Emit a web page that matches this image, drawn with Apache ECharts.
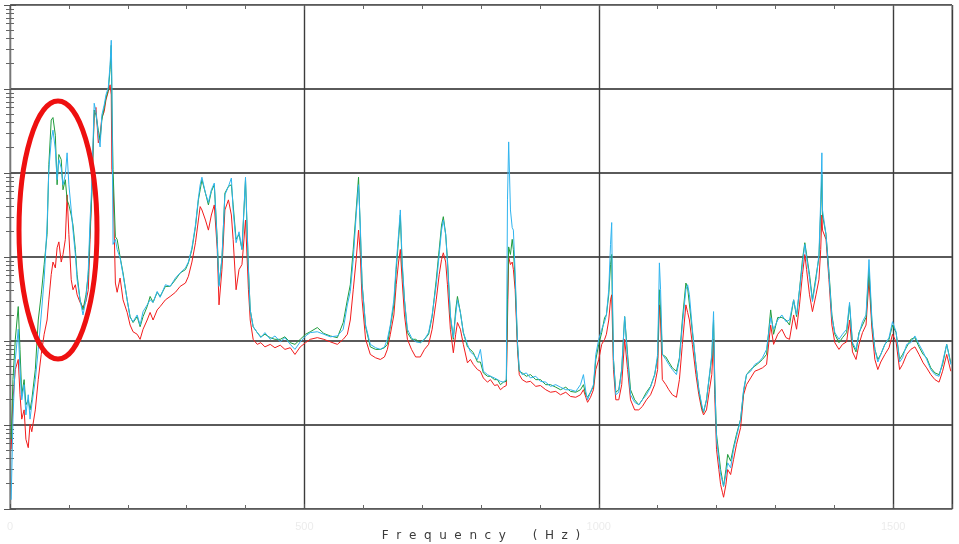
<!DOCTYPE html>
<html>
<head>
<meta charset="utf-8">
<title>Frequency spectrum</title>
<script src="https://cdn.jsdelivr.net/npm/echarts@6/dist/echarts.min.js"></script>
<style>
  html, body { margin: 0; padding: 0; background: #ffffff; }
  #chart { width: 959px; height: 544px; }
</style>
</head>
<body>
<div id="chart"></div>
<script>
// Frequency bins (Hz) shared by the three spectra
const freq = [
  2,5,9,14,17,20,24,27,31,34,
  37,43,48,53,58,63,66,70,73,77,
  80,83,87,90,94,97,100,104,107,111,
  114,119,124,129,133,136,139,143,146,150,
  153,156,160,163,167,170,172,173,175,179,
  182,187,192,199,204,209,216,221,226,233,
  238,243,250,255,264,272,281,289,298,303,
  309,315,320,323,326,332,337,342,347,352,
  355,360,365,371,376,379,384,389,394,400,
  405,408,413,420,426,433,442,450,459,467,
  476,484,493,502,510,522,533,544,556,566,
  573,578,583,588,592,595,598,604,612,621,
  629,636,641,646,652,656,660,663,666,670,
  675,682,689,697,704,711,717,724,729,733,
  736,740,743,748,753,757,760,765,770,777,
  782,787,794,799,804,811,816,823,828,833,
  838,843,845,847,850,853,855,858,862,865,
  870,877,884,893,901,910,918,927,935,944,
  952,961,969,974,978,981,986,991,995,1000,
  1005,1010,1013,1017,1020,1022,1023,1025,1029,1034,
  1039,1044,1049,1054,1061,1068,1074,1081,1088,1095,
  1100,1103,1105,1108,1114,1119,1125,1132,1137,1142,
  1148,1151,1154,1159,1165,1170,1175,1178,1183,1188,
  1192,1195,1197,1200,1204,1207,1210,1212,1216,1219,
  1224,1229,1234,1241,1246,1251,1258,1265,1272,1278,
  1285,1292,1297,1304,1311,1318,1324,1331,1336,1341,
  1346,1350,1353,1358,1363,1369,1374,1377,1379,1380,
  1386,1391,1396,1401,1408,1414,1421,1426,1431,1437,
  1442,1448,1454,1459,1464,1469,1474,1479,1486,1493,
  1499,1505,1511,1516,1523,1530,1537,1544,1551,1557,
  1564,1571,1578,1584,1591,1598
];

// Spectral density, stored as log10 values
const cyanLog = [
  -5.89,-4.93,-4.22,-3.86,-4.34,-4.70,-4.52,-4.88,-4.64,-4.93,
  -4.76,-4.46,-4.10,-3.69,-3.27,-2.62,-1.96,-1.61,-1.49,-1.72,
  -2.08,-1.84,-1.94,-2.14,-2.02,-1.76,-2.14,-2.44,-2.68,-2.97,
  -3.27,-3.51,-3.69,-3.51,-3.15,-2.56,-2.14,-1.17,-1.27,-1.55,
  -1.69,-1.31,-1.19,-1.07,-0.98,-0.71,-0.42,-0.89,-2.85,-2.79,
  -2.91,-3.01,-3.21,-3.51,-3.72,-3.77,-3.69,-3.81,-3.65,-3.57,
  -3.51,-3.54,-3.41,-3.48,-3.33,-3.35,-3.25,-3.19,-3.13,-3.06,
  -2.89,-2.62,-2.30,-2.14,-2.05,-2.24,-2.35,-2.20,-2.12,-2.83,
  -3.35,-3.01,-2.26,-2.16,-2.06,-2.44,-2.83,-2.70,-2.91,-2.05,
  -3.15,-3.63,-3.83,-3.90,-3.96,-3.90,-3.98,-3.94,-4.01,-3.96,
  -4.04,-4.10,-4.01,-3.94,-3.90,-3.89,-3.92,-3.95,-3.94,-3.86,
  -3.57,-3.41,-3.03,-2.50,-2.14,-2.62,-3.33,-3.81,-4.04,-4.08,
  -4.10,-4.07,-3.98,-3.81,-3.51,-3.09,-2.73,-2.44,-3.03,-3.51,
  -3.86,-3.96,-4.01,-4.02,-3.98,-3.90,-3.69,-3.33,-2.97,-2.68,
  -2.56,-2.73,-3.06,-3.69,-3.96,-3.69,-3.51,-3.66,-3.90,-4.04,
  -4.13,-4.16,-4.22,-4.10,-4.36,-4.40,-4.42,-4.44,-4.46,-4.48,
  -4.49,-4.46,-2.32,-1.63,-2.44,-2.65,-2.68,-3.19,-4.02,-4.34,
  -4.40,-4.38,-4.44,-4.42,-4.48,-4.49,-4.54,-4.52,-4.55,-4.58,
  -4.58,-4.60,-4.52,-4.40,-4.60,-4.70,-4.61,-4.52,-4.16,-3.98,
  -3.86,-3.77,-3.69,-3.39,-2.85,-2.59,-3.27,-4.22,-4.64,-4.61,
  -4.34,-3.71,-4.22,-4.64,-4.73,-4.76,-4.70,-4.64,-4.55,-4.40,
  -4.16,-3.07,-3.39,-4.16,-4.22,-4.28,-4.34,-4.40,-4.22,-3.81,
  -3.39,-3.33,-3.45,-3.86,-4.28,-4.58,-4.76,-4.84,-4.70,-4.40,
  -4.16,-3.65,-4.46,-5.17,-5.41,-5.59,-5.67,-5.73,-5.59,-5.45,
  -5.51,-5.29,-5.14,-4.93,-4.58,-4.40,-4.36,-4.28,-4.25,-4.20,
  -4.10,-3.72,-3.86,-3.75,-3.69,-3.77,-3.75,-3.51,-3.69,-3.39,
  -3.09,-2.85,-3.01,-3.25,-3.53,-3.27,-2.97,-2.32,-1.76,-2.44,
  -2.73,-3.21,-3.72,-3.90,-3.98,-3.92,-3.86,-3.54,-4.02,-4.10,
  -3.92,-3.77,-3.69,-3.03,-3.75,-4.10,-4.25,-4.16,-4.04,-3.96,
  -3.77,-3.89,-4.25,-4.20,-4.04,-4.02,-3.94,-4.04,-4.13,-4.22,
  -4.34,-4.40,-4.42,-4.25,-4.04,-4.28
];

const greenLog = [
  -5.17,-4.46,-3.98,-3.59,-4.10,-4.64,-4.46,-4.76,-4.70,-4.82,
  -4.70,-4.34,-3.75,-3.45,-3.09,-2.73,-1.90,-1.37,-1.34,-1.55,
  -2.14,-1.78,-1.84,-2.20,-2.08,-2.32,-2.38,-2.50,-2.62,-2.91,
  -3.21,-3.51,-3.63,-3.45,-3.21,-2.68,-2.26,-1.25,-1.31,-1.49,
  -1.61,-1.37,-1.22,-1.11,-1.01,-0.77,-0.48,-1.13,-1.96,-2.76,
  -2.79,-3.00,-3.19,-3.51,-3.71,-3.78,-3.71,-3.83,-3.71,-3.59,
  -3.47,-3.54,-3.42,-3.47,-3.35,-3.35,-3.27,-3.19,-3.15,-3.07,
  -2.91,-2.64,-2.32,-2.20,-2.08,-2.24,-2.38,-2.22,-2.14,-2.79,
  -3.33,-3.03,-2.24,-2.16,-2.14,-2.38,-2.79,-2.73,-2.91,-2.08,
  -3.15,-3.63,-3.83,-3.90,-3.95,-3.92,-3.96,-3.98,-3.98,-3.95,
  -4.02,-4.04,-3.98,-3.92,-3.89,-3.84,-3.91,-3.94,-3.96,-3.78,
  -3.51,-3.33,-2.91,-2.44,-2.05,-2.68,-3.31,-3.83,-4.07,-4.10,
  -4.10,-4.08,-4.04,-3.83,-3.57,-3.15,-2.79,-2.50,-3.09,-3.51,
  -3.90,-3.98,-3.98,-4.02,-3.98,-3.92,-3.71,-3.27,-2.91,-2.62,
  -2.52,-2.73,-3.03,-3.71,-3.98,-3.63,-3.47,-3.66,-3.90,-4.07,
  -4.10,-4.14,-4.25,-4.25,-4.38,-4.42,-4.42,-4.46,-4.46,-4.52,
  -4.49,-4.48,-3.51,-2.88,-2.97,-2.79,-2.91,-3.27,-4.04,-4.36,
  -4.38,-4.42,-4.40,-4.46,-4.46,-4.52,-4.52,-4.55,-4.58,-4.55,
  -4.60,-4.61,-4.58,-4.52,-4.64,-4.67,-4.61,-4.54,-4.22,-4.04,
  -3.90,-3.72,-3.69,-3.45,-3.09,-2.97,-3.51,-4.22,-4.61,-4.58,
  -4.34,-3.71,-4.16,-4.58,-4.70,-4.76,-4.70,-4.61,-4.54,-4.40,
  -4.20,-3.39,-3.63,-4.16,-4.19,-4.25,-4.32,-4.36,-4.20,-3.75,
  -3.31,-3.37,-3.39,-3.89,-4.28,-4.58,-4.79,-4.85,-4.70,-4.42,
  -4.19,-3.75,-4.46,-5.11,-5.35,-5.53,-5.65,-5.73,-5.53,-5.35,
  -5.43,-5.26,-5.11,-4.93,-4.60,-4.40,-4.34,-4.30,-4.26,-4.22,
  -4.16,-3.63,-3.92,-3.72,-3.72,-3.75,-3.81,-3.51,-3.71,-3.39,
  -3.03,-2.83,-2.97,-3.21,-3.51,-3.23,-3.01,-2.44,-2.02,-2.50,
  -2.73,-3.17,-3.69,-3.92,-4.02,-3.96,-3.90,-3.57,-4.04,-4.13,
  -3.90,-3.81,-3.72,-3.15,-3.78,-4.10,-4.22,-4.16,-4.04,-3.98,
  -3.81,-3.90,-4.22,-4.16,-4.07,-3.98,-3.96,-4.07,-4.16,-4.20,
  -4.32,-4.38,-4.40,-4.28,-4.04,-4.26
];

const redLog = [
  -5.29,-4.70,-4.34,-4.22,-4.64,-4.93,-4.82,-5.17,-5.27,-4.99,
  -5.08,-4.82,-4.46,-4.16,-3.92,-3.75,-3.51,-3.21,-3.06,-3.13,
  -2.89,-2.82,-3.06,-2.97,-2.79,-2.26,-2.73,-3.27,-3.39,-3.33,
  -3.45,-3.54,-3.60,-3.53,-3.39,-2.79,-2.20,-1.31,-1.22,-1.64,
  -1.55,-1.34,-1.27,-1.13,-1.03,-0.95,-1.07,-1.96,-2.08,-3.31,
  -3.42,-3.25,-3.51,-3.66,-3.81,-3.89,-3.92,-3.98,-3.86,-3.75,
  -3.66,-3.75,-3.63,-3.59,-3.51,-3.47,-3.42,-3.35,-3.31,-3.23,
  -3.06,-2.83,-2.56,-2.40,-2.44,-2.56,-2.68,-2.50,-2.38,-2.91,
  -3.57,-3.15,-2.44,-2.32,-2.50,-2.79,-3.39,-3.15,-3.09,-2.56,
  -3.39,-3.75,-3.98,-4.04,-4.02,-4.07,-4.04,-4.08,-4.05,-4.10,
  -4.08,-4.16,-4.07,-4.02,-3.98,-3.96,-3.98,-4.01,-4.04,-3.98,
  -3.92,-3.75,-3.39,-3.03,-2.68,-2.97,-3.51,-3.98,-4.16,-4.20,
  -4.22,-4.19,-4.10,-3.92,-3.69,-3.33,-3.06,-2.91,-3.27,-3.69,
  -3.98,-4.10,-4.19,-4.19,-4.10,-4.04,-3.86,-3.51,-3.21,-3.03,
  -2.95,-3.06,-3.33,-3.86,-4.14,-3.92,-3.78,-3.86,-4.04,-4.26,
  -4.22,-4.28,-4.34,-4.36,-4.44,-4.49,-4.46,-4.53,-4.52,-4.58,
  -4.55,-4.53,-3.75,-3.00,-3.09,-3.06,-3.15,-3.39,-4.10,-4.40,
  -4.46,-4.49,-4.48,-4.54,-4.53,-4.58,-4.61,-4.60,-4.64,-4.61,
  -4.66,-4.67,-4.64,-4.58,-4.67,-4.73,-4.67,-4.58,-4.34,-4.22,
  -4.04,-3.98,-3.92,-3.75,-3.51,-3.45,-3.75,-4.34,-4.70,-4.70,
  -4.52,-3.98,-4.34,-4.70,-4.82,-4.82,-4.78,-4.70,-4.64,-4.52,
  -4.34,-3.57,-3.75,-4.46,-4.52,-4.58,-4.64,-4.67,-4.46,-4.04,
  -3.57,-3.66,-3.75,-4.04,-4.40,-4.64,-4.82,-4.88,-4.82,-4.58,
  -4.40,-3.98,-4.64,-5.29,-5.53,-5.71,-5.80,-5.86,-5.71,-5.53,
  -5.59,-5.41,-5.23,-5.03,-4.64,-4.52,-4.44,-4.36,-4.34,-4.32,
  -4.28,-3.81,-4.04,-3.92,-3.86,-3.96,-3.98,-3.69,-3.86,-3.57,
  -3.21,-2.97,-3.15,-3.45,-3.65,-3.45,-3.27,-2.91,-2.50,-2.68,
  -2.79,-3.27,-3.81,-4.02,-4.10,-4.04,-4.01,-3.75,-4.13,-4.22,
  -4.04,-3.90,-3.81,-3.27,-3.86,-4.22,-4.34,-4.25,-4.16,-4.08,
  -3.92,-4.01,-4.34,-4.28,-4.16,-4.10,-4.07,-4.16,-4.26,-4.32,
  -4.40,-4.46,-4.49,-4.36,-4.16,-4.36
];

// Axis settings
const freqMin = 0, freqMax = 1600, freqStep = 500;
const psdMin = 1e-6, psdMax = 1;
const freqTickLabels = ['0', '500', '1000', '1500'];

function toPairs(logs) {
  return freq.map((f, i) => [f, Math.pow(10, logs[i])]);
}

const chart = echarts.init(document.getElementById('chart'), null, { renderer: 'canvas' });

const minorTickBase = { show: true, splitNumber: 5, length: 4, lineStyle: { color: '#666', width: 1 } };

const option = {
  backgroundColor: '#ffffff',
  animation: false,
  grid: {
    left: 10, right: 7, top: 5, bottom: 35,
    outerBoundsMode: 'none',
    containLabel: false,
    show: true, borderColor: '#777', borderWidth: 1, backgroundColor: 'transparent'
  },
  xAxis: [
    {
      type: 'value', min: freqMin, max: freqMax, interval: freqStep,
      position: 'bottom',
      name: 'F  r  e  q  u  e  n  c  y       (  H  z  )',
      nameLocation: 'middle', nameGap: 21,
      nameMoveOverlap: false,
      nameTextStyle: { color: '#3a3a3a', fontSize: 12, fontFamily: 'DejaVu Sans' },
      axisLine: { show: true, lineStyle: { color: '#777', width: 1 } },
      axisTick: { show: true, inside: true, length: 5, lineStyle: { color: '#555' } },
      minorTick: minorTickBase,
      axisLabel: {
        show: true, color: '#ececec', fontSize: 11, margin: 12,
        formatter: (v) => (v % freqStep === 0 ? (freqTickLabels[v / freqStep] || '') : '')
      },
      splitLine: { show: true, lineStyle: { color: '#3c3c3c', width: 1.4 } },
      minorSplitLine: { show: false }
    },
    {
      type: 'value', min: freqMin, max: freqMax, interval: freqStep,
      position: 'top',
      axisLine: { show: true, lineStyle: { color: '#777', width: 1 } },
      axisTick: { show: true, inside: true, length: 5, lineStyle: { color: '#555' } },
      minorTick: minorTickBase,
      axisLabel: { show: false },
      splitLine: { show: false }
    }
  ],
  yAxis: [
    {
      type: 'log', logBase: 10, min: psdMin, max: psdMax,
      position: 'left',
      axisLine: { show: true, lineStyle: { color: '#777', width: 1 } },
      axisTick: { show: true, inside: true, length: 6, lineStyle: { color: '#555' } },
      minorTick: { show: true, splitNumber: 9, length: 4, lineStyle: { color: '#666' } },
      axisLabel: { show: false },
      splitLine: { show: true, lineStyle: { color: '#5a5a5a', width: 2 } }
    },
    {
      type: 'log', logBase: 10, min: psdMin, max: psdMax,
      position: 'right',
      axisLine: { show: true, lineStyle: { color: '#777', width: 1 } },
      axisTick: { show: true, inside: true, length: 6, lineStyle: { color: '#555' } },
      minorTick: { show: true, splitNumber: 9, length: 4, lineStyle: { color: '#666' } },
      axisLabel: { show: false },
      splitLine: { show: false }
    }
  ],
  series: [
    {
      name: 'Channel 3', type: 'line', data: toPairs(redLog),
      showSymbol: false, lineStyle: { color: '#f21c1c', width: 1 }, z: 3
    },
    {
      name: 'Channel 2', type: 'line', data: toPairs(greenLog),
      showSymbol: false, lineStyle: { color: '#1f9c3c', width: 1 }, z: 4
    },
    {
      name: 'Channel 1', type: 'line', data: toPairs(cyanLog),
      showSymbol: false, lineStyle: { color: '#2fb4ef', width: 1 }, z: 5
    }
  ],
  graphic: [
    {
      type: 'ellipse', z: 100,
      shape: { cx: 58, cy: 230, rx: 39, ry: 129 },
      style: { fill: 'none', stroke: '#ee1010', lineWidth: 5 }
    }
  ]
};

chart.setOption(option);
</script>
</body>
</html>
